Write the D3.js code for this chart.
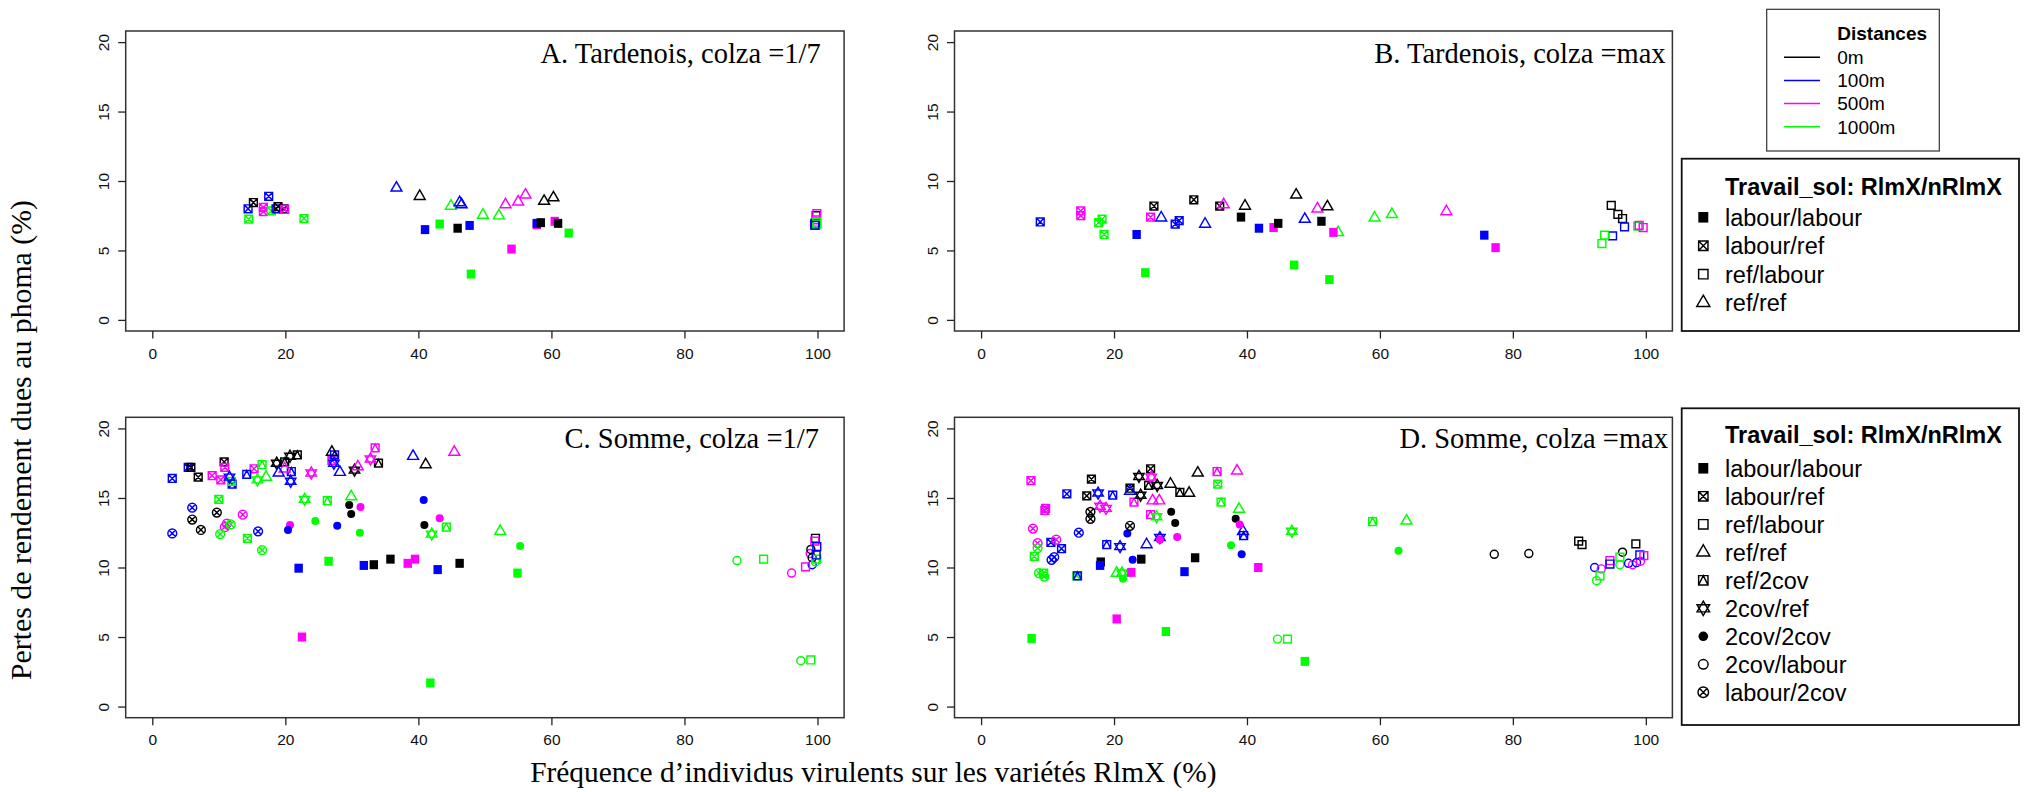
<!DOCTYPE html>
<html><head><meta charset="utf-8">
<script src="https://cdn.jsdelivr.net/npm/d3@7"></script>
<style>html,body{margin:0;padding:0;background:#fff;} svg{display:block;}</style>
</head><body>
<svg id="c" width="2029" height="792"></svg>
<script>
// ---------- DATA ----------
const xTicks = [0, 20, 40, 60, 80, 100];
const yTicks = [0, 5, 10, 15, 20];
const distances = ["0m", "100m", "500m", "1000m"];
const distanceColors = ["#000000", "#0000ff", "#ff00ff", "#00ff00"];
// treatment codes -> legend labels
const treatmentCodes = ["LL", "LR", "RL", "RR", "R2", "2R", "22", "2L", "L2"];
const treatmentLabels = ["labour/labour", "labour/ref", "ref/labour", "ref/ref", "ref/2cov", "2cov/ref", "2cov/2cov", "2cov/labour", "labour/2cov"];
const legendTreatmentsAB = ["LL", "LR", "RL", "RR"];
const legendTreatmentsCD = ["LL", "LR", "RL", "RR", "R2", "2R", "22", "2L", "L2"];
const panelTitles = ["A. Tardenois, colza =1/7", "B. Tardenois, colza =max", "C. Somme, colza =1/7", "D. Somme, colza =max"];

// each point: [frequence RlmX (%), pertes (%), distance index, treatment code]
const panelA = [
  [14.4,8.0,1,"LR"],[15.2,8.45,0,"LR"],[17.5,8.9,1,"LR"],[16.7,8.1,2,"LR"],[16.7,7.8,2,"LR"],[17.9,7.85,3,"LR"],
  [18.6,8.0,1,"LR"],[18.9,8.15,0,"LR"],[19.8,8.0,0,"LR"],[19.9,7.95,2,"LR"],[14.5,7.25,3,"LR"],[22.8,7.3,3,"LR"],
  [36.7,9.5,1,"RR"],[40.2,8.9,0,"RR"],[44.9,8.2,3,"RR"],[46.2,8.45,1,"RR"],[46.5,8.3,1,"RR"],[49.7,7.55,3,"RR"],
  [52.1,7.5,3,"RR"],[53.1,8.3,2,"RR"],[55.0,8.5,2,"RR"],[56.1,9.0,2,"RR"],[58.9,8.55,0,"RR"],[60.3,8.8,0,"RR"],
  [41.0,6.5,1,"LL"],[43.2,6.9,3,"LL"],[45.9,6.6,0,"LL"],[47.7,6.8,1,"LL"],[47.9,3.3,3,"LL"],[54.0,5.1,2,"LL"],
  [57.8,6.85,2,"LL"],[57.8,6.95,1,"LL"],[58.4,7.0,0,"LL"],[60.5,7.1,2,"LL"],[61.0,6.95,0,"LL"],[62.6,6.25,3,"LL"],
  [99.8,7.5,0,"RL"],[99.9,7.65,2,"RL"],[99.8,7.2,2,"RL"],[99.6,6.95,1,"RL"],[99.9,7.05,3,"RL"],[99.7,6.85,0,"RL"],
  [99.9,6.9,3,"RL"],[99.6,6.8,1,"RL"]
];
const panelB = [
  [8.9,7.05,1,"LR"],[15.0,7.85,2,"LR"],[15.0,7.5,2,"LR"],[17.7,7.0,3,"LR"],[18.2,7.25,3,"LR"],[18.5,6.15,3,"LR"],
  [26.0,8.2,0,"LR"],[25.5,7.4,2,"LR"],[29.2,6.9,1,"LR"],[29.8,7.15,1,"LR"],[32.0,8.65,0,"LR"],[35.9,8.2,0,"LR"],
  [27.1,7.35,1,"RR"],[33.7,6.9,1,"RR"],[36.5,8.3,2,"RR"],[39.7,8.2,0,"RR"],[47.4,9.0,0,"RR"],[48.7,7.25,1,"RR"],
  [50.6,8.0,2,"RR"],[52.1,8.15,0,"RR"],[53.7,6.3,3,"RR"],[59.2,7.35,3,"RR"],[61.8,7.6,3,"RR"],[70.0,7.8,2,"RR"],
  [23.4,6.15,1,"LL"],[24.7,3.4,3,"LL"],[39.1,7.4,0,"LL"],[41.8,6.6,1,"LL"],[44.0,6.65,2,"LL"],[44.7,6.95,0,"LL"],
  [47.1,3.95,3,"LL"],[51.2,7.1,0,"LL"],[53.0,6.3,2,"LL"],[52.4,2.9,3,"LL"],[75.7,6.1,1,"LL"],[77.4,5.2,2,"LL"],
  [94.8,8.25,0,"RL"],[95.8,7.6,0,"RL"],[96.5,7.3,0,"RL"],[96.8,6.7,1,"RL"],[95.0,6.05,1,"RL"],[93.8,6.1,3,"RL"],
  [93.4,5.5,3,"RL"],[98.8,6.75,3,"RL"],[99.0,6.8,2,"RL"],[99.6,6.65,2,"RL"]
];
const panelC = [
  [3.0,16.4,1,"LR"],[5.4,17.2,1,"LR"],[5.8,17.2,0,"LR"],[6.9,16.5,0,"LR"],[10.8,17.6,0,"LR"],[9.0,16.6,2,"LR"],
  [10.3,16.3,2,"LR"],[10.9,17.2,2,"LR"],[10.0,14.9,3,"LR"],[14.3,12.1,3,"LR"],[12.0,16.0,1,"LR"],[11.9,16.2,3,"LR"],
  [15.3,17.1,2,"LR"],[27.0,17.7,2,"LR"],
  [14.2,16.7,1,"R2"],[16.5,17.4,3,"R2"],[19.9,17.6,0,"R2"],[21.8,18.1,0,"R2"],[20.9,16.9,1,"R2"],[27.4,18.1,1,"R2"],
  [33.5,18.6,2,"R2"],[34.0,17.5,0,"R2"],[26.3,14.8,3,"R2"],[44.2,12.9,3,"R2"],
  [11.6,16.5,1,"2R"],[15.8,16.3,3,"2R"],[18.7,17.5,0,"2R"],[20.7,18.0,0,"2R"],[20.8,16.2,1,"2R"],[23.9,16.8,2,"2R"],
  [27.3,17.5,1,"2R"],[30.4,17.0,0,"2R"],[32.8,17.8,2,"2R"],[22.9,14.9,3,"2R"],[42.0,12.4,3,"2R"],
  [17.1,16.5,3,"RR"],[19.9,17.1,2,"RR"],[19.0,16.8,1,"RR"],[27.0,18.3,0,"RR"],[28.2,16.85,1,"RR"],[30.9,17.25,2,"RR"],
  [39.2,18.0,1,"RR"],[41.1,17.4,0,"RR"],[45.4,18.3,2,"RR"],[29.9,15.1,3,"RR"],[52.3,12.6,3,"RR"],
  [29.6,14.5,0,"22"],[29.9,13.85,0,"22"],[31.3,14.35,2,"22"],[31.2,12.5,3,"22"],[24.5,13.35,3,"22"],[27.8,13.0,1,"22"],
  [20.7,13.05,2,"22"],[20.4,12.7,1,"22"],[40.8,14.85,1,"22"],[40.9,13.05,0,"22"],[43.2,13.55,2,"22"],[55.3,11.55,3,"22"],
  [3.0,12.45,1,"L2"],[6.0,14.3,1,"L2"],[6.0,13.45,0,"L2"],[7.3,12.7,0,"L2"],[9.7,13.95,0,"L2"],[13.6,13.8,2,"L2"],
  [10.9,12.9,2,"L2"],[11.2,13.15,2,"L2"],[11.8,13.1,3,"L2"],[10.2,12.4,3,"L2"],[15.9,12.6,1,"L2"],[16.5,11.25,3,"L2"],
  [22.0,9.95,1,"LL"],[26.5,10.45,3,"LL"],[31.8,10.15,1,"LL"],[33.3,10.2,0,"LL"],[35.8,10.6,0,"LL"],[38.4,10.3,2,"LL"],
  [39.5,10.6,2,"LL"],[42.9,9.85,1,"LL"],[46.2,10.3,0,"LL"],[54.9,9.6,3,"LL"],[22.5,5.0,2,"LL"],[41.8,1.7,3,"LL"],
  [87.9,10.5,3,"2L"],[96.1,9.6,2,"2L"],[97.5,3.3,3,"2L"],[98.9,11.0,2,"2L"],[99.0,11.3,0,"2L"],[99.2,10.7,0,"2L"],
  [99.2,10.2,1,"2L"],[99.7,10.4,3,"2L"],
  [91.9,10.6,3,"RL"],[98.2,10.05,2,"RL"],[99.0,3.35,3,"RL"],[99.7,12.1,0,"RL"],[99.6,11.9,2,"RL"],[99.9,11.5,1,"RL"],
  [99.9,10.6,3,"RL"],[99.8,10.9,1,"RL"]
];
const panelD = [
  [7.5,16.25,2,"LR"],[16.6,16.35,0,"LR"],[12.9,15.3,1,"LR"],[15.9,15.15,0,"LR"],[9.7,14.25,2,"LR"],[9.6,14.1,2,"LR"],
  [22.4,15.7,0,"LR"],[25.5,17.1,0,"LR"],[35.6,16.0,3,"LR"],[10.5,11.8,1,"LR"],[12.1,11.35,1,"LR"],[8.0,10.8,3,"LR"],
  [9.4,9.6,3,"LR"],[14.4,9.4,3,"LR"],
  [19.8,15.2,1,"R2"],[25.2,15.9,0,"R2"],[29.9,15.4,0,"R2"],[35.5,16.9,2,"R2"],[36.1,14.7,3,"R2"],[23.0,14.7,2,"R2"],
  [25.5,13.8,2,"R2"],[39.5,12.3,1,"R2"],[58.9,13.3,3,"R2"],[18.9,11.65,1,"R2"],[14.5,9.4,1,"R2"],
  [17.6,15.35,1,"2R"],[17.9,14.4,2,"2R"],[18.8,14.25,2,"2R"],[23.75,16.55,0,"2R"],[25.6,16.5,2,"2R"],[24.0,15.2,0,"2R"],
  [26.5,15.9,0,"2R"],[26.4,13.65,3,"2R"],[26.9,12.15,1,"2R"],[20.9,11.5,1,"2R"],[46.75,12.6,3,"2R"],[21.2,9.6,3,"2R"],
  [22.4,15.5,1,"RR"],[28.5,16.0,0,"RR"],[31.3,15.35,0,"RR"],[32.6,16.8,0,"RR"],[38.5,16.95,2,"RR"],[38.8,14.2,3,"RR"],
  [25.8,14.8,2,"RR"],[26.8,14.8,2,"RR"],[39.4,12.6,1,"RR"],[24.9,11.65,1,"RR"],[20.4,9.6,3,"RR"],[64.0,13.35,3,"RR"],
  [28.6,14.0,0,"22"],[29.2,13.2,0,"22"],[38.3,13.5,0,"22"],[38.9,13.1,2,"22"],[29.5,12.2,2,"22"],[22.0,12.45,1,"22"],
  [22.8,10.55,1,"22"],[39.2,10.95,1,"22"],[37.6,11.6,3,"22"],[62.8,11.2,3,"22"],[26.9,12.0,2,"22"],[21.35,9.2,3,"22"],
  [16.45,14.0,0,"L2"],[16.45,13.5,0,"L2"],[22.4,13.0,0,"L2"],[14.7,12.5,1,"L2"],[11.3,12.0,2,"L2"],[7.8,12.8,2,"L2"],
  [8.5,11.75,2,"L2"],[8.5,11.4,3,"L2"],[10.6,10.55,1,"L2"],[11.0,10.75,1,"L2"],[8.7,9.6,3,"L2"],[9.5,9.35,3,"L2"],
  [18.0,10.4,0,"LL"],[17.9,10.15,1,"LL"],[24.1,10.6,0,"LL"],[22.6,9.65,2,"LL"],[32.2,10.7,0,"LL"],[30.6,9.7,1,"LL"],
  [41.7,10.0,2,"LL"],[20.4,6.3,2,"LL"],[7.6,4.9,3,"LL"],[27.8,5.4,3,"LL"],[48.7,3.25,3,"LL"],
  [44.6,4.85,3,"2L"],[77.2,10.95,0,"2L"],[82.4,11.0,0,"2L"],[96.5,11.1,0,"2L"],[92.3,10.0,1,"2L"],[93.3,9.9,2,"2L"],
  [92.6,9.05,3,"2L"],[96.1,10.2,3,"2L"],[97.4,10.3,1,"2L"],[98.0,10.2,2,"2L"],[98.6,10.35,1,"2L"],[99.2,10.45,2,"2L"],
  [46.1,4.85,3,"RL"],[89.9,11.9,0,"RL"],[90.4,11.65,0,"RL"],[98.5,11.7,0,"RL"],[93.1,9.4,3,"RL"],[94.6,10.5,2,"RL"],
  [94.6,10.25,1,"RL"],[96.1,10.75,3,"RL"],[99.1,10.9,1,"RL"],[99.7,10.85,2,"RL"]
];

// ---------- LAYOUT ----------
const SANS = "'Liberation Sans', Arial, Helvetica, sans-serif";
const SERIF = "'Liberation Serif', 'Times New Roman', Times, serif";
const panels = [
  {data: panelA, title: panelTitles[0], x0: 125.7, x1: 844.1, y0: 31, y1: 331, tx: 820.8, ty: 63.3},
  {data: panelB, title: panelTitles[1], x0: 954.5, x1: 1672.4, y0: 31, y1: 331, tx: 1665.6, ty: 63.3},
  {data: panelC, title: panelTitles[2], x0: 125.7, x1: 844.1, y0: 417.3, y1: 717.7, tx: 818.9, ty: 448.3},
  {data: panelD, title: panelTitles[3], x0: 954.5, x1: 1672.4, y0: 417.3, y1: 717.7, tx: 1668, ty: 448.3}
];

const svg = d3.select("#c");

function drawSymbol(g, code, color, k) {
  const s = 3.9 * k, lw = 1.45;
  const rt = 6.3 * k;
  if (code === "LL") {
    g.append("rect").attr("x", -s - 0.3).attr("y", -s - 0.6).attr("width", 2 * s + 0.6).attr("height", 2 * s + 1.2).attr("fill", color);
    return;
  }
  if (code === "22") {
    g.append("circle").attr("r", 4.0 * k).attr("fill", color);
    return;
  }
  const p = d3.path();
  if (code === "LR" || code === "RL" || code === "R2") {
    p.rect(-s, -s, 2 * s, 2 * s);
    if (code === "LR") { p.moveTo(-s, -s); p.lineTo(s, s); p.moveTo(-s, s); p.lineTo(s, -s); }
    if (code === "R2") { p.moveTo(-s, s); p.lineTo(0, -s); p.lineTo(s, s); }
  } else if (code === "RR") {
    p.moveTo(0, -rt); p.lineTo(rt * 0.866, rt * 0.5); p.lineTo(-rt * 0.866, rt * 0.5); p.closePath();
  } else if (code === "2R") {
    const h = 6 * k, b = 3 * k, w = 5.2 * k;
    p.moveTo(0, -h); p.lineTo(w, b); p.lineTo(-w, b); p.closePath();
    p.moveTo(0, h); p.lineTo(w, -b); p.lineTo(-w, -b); p.closePath();
  } else if (code === "2L" || code === "L2") {
    const r = (code === "L2" ? 4.4 : 4.0) * k;
    p.moveTo(r, 0); p.arc(0, 0, r, 0, 2 * Math.PI);
    if (code === "L2") {
      const d = r * 0.7071;
      p.moveTo(-d, -d); p.lineTo(d, d); p.moveTo(-d, d); p.lineTo(d, -d);
    }
  }
  g.append("path").attr("d", p.toString()).attr("fill", "none").attr("stroke", color).attr("stroke-width", lw);
}

panels.forEach(P => {
  const x = d3.scaleLinear().domain([-4, 104]).range([P.x0, P.x1]);
  const y = d3.scaleLinear().domain([-0.8, 20.8]).range([P.y1, P.y0]);
  const g = svg.append("g");

  // points
  const pts = g.append("g");
  P.data.forEach(d => {
    const s = pts.append("g").attr("transform", `translate(${x(d[0])},${y(d[1])})`);
    drawSymbol(s, d[3], distanceColors[d[2]], 1);
  });

  // box
  g.append("rect").attr("x", P.x0).attr("y", P.y0).attr("width", P.x1 - P.x0).attr("height", P.y1 - P.y0)
    .attr("fill", "none").attr("stroke", "#333").attr("stroke-width", 1.5);

  // x axis
  const xa = g.append("g").attr("transform", `translate(0,${P.y1})`)
    .call(d3.axisBottom(x).tickValues(xTicks).tickSize(7.5).tickSizeOuter(0).tickPadding(9));
  xa.select(".domain").remove();
  xa.selectAll("line").attr("stroke", "#222").attr("stroke-width", 1.3);
  xa.selectAll("text").attr("font-family", SANS).attr("font-size", 15.5).attr("fill", "#111");

  // y axis
  const ya = g.append("g").attr("transform", `translate(${P.x0},0)`)
    .call(d3.axisLeft(y).tickValues(yTicks).tickSize(7.5).tickSizeOuter(0));
  ya.select(".domain").remove();
  ya.selectAll("line").attr("stroke", "#222").attr("stroke-width", 1.3);
  ya.selectAll("text").attr("font-family", SANS).attr("font-size", 15.5).attr("fill", "#111")
    .attr("x", null).attr("dy", "0.36em").attr("text-anchor", "middle")
    .attr("transform", "translate(-22,0) rotate(-90)");

  // title
  g.append("text").attr("x", P.tx).attr("y", P.ty).attr("text-anchor", "end")
    .attr("font-family", SERIF).attr("font-size", 28.5).attr("fill", "#000").text(P.title);
});

// global axis labels
svg.append("text").attr("x", 873.4).attr("y", 782).attr("text-anchor", "middle")
  .attr("font-family", SERIF).attr("font-size", 29.4).attr("fill", "#000")
  .text("Fréquence d’individus virulents sur les variétés RlmX (%)");
svg.append("text").attr("transform", "translate(31,440) rotate(-90)").attr("text-anchor", "middle")
  .attr("font-family", SERIF).attr("font-size", 29.8).attr("fill", "#000")
  .text("Pertes de rendement dues au phoma (%)");

// Distances legend
const dl = svg.append("g");
dl.append("rect").attr("x", 1766.7).attr("y", 9.3).attr("width", 172.6).attr("height", 141.7)
  .attr("fill", "#fff").attr("stroke", "#333").attr("stroke-width", 1.2);
dl.append("text").attr("x", 1837.3).attr("y", 40).attr("font-family", SANS).attr("font-weight", "bold")
  .attr("font-size", 19).text("Distances");
const distY = d3.scaleLinear().domain([0, 3]).range([57.3, 126.7]);
distances.forEach((d, i) => {
  dl.append("line").attr("x1", 1784).attr("x2", 1820).attr("y1", distY(i)).attr("y2", distY(i))
    .attr("stroke", distanceColors[i]).attr("stroke-width", 1.5);
  dl.append("text").attr("x", 1837.3).attr("y", distY(i)).attr("dy", "0.36em")
    .attr("font-family", SANS).attr("font-size", 19).text(d);
});

// Treatment legends
function treatmentLegend(top, bottom, titleY, firstY, step, codes) {
  const lg = svg.append("g");
  lg.append("rect").attr("x", 1681.7).attr("y", top).attr("width", 2019 - 1681.7).attr("height", bottom - top)
    .attr("fill", "#fff").attr("stroke", "#111").attr("stroke-width", 1.8);
  lg.append("text").attr("x", 1725).attr("y", titleY).attr("font-family", SANS).attr("font-weight", "bold")
    .attr("font-size", 23.5).text("Travail_sol: RlmX/nRlmX");
  codes.forEach((c, i) => {
    const yy = firstY + i * step;
    const s = lg.append("g").attr("transform", `translate(1703.3,${yy})`);
    drawSymbol(s, c, "#000", 1.2);
    lg.append("text").attr("x", 1725).attr("y", yy).attr("dy", "0.36em")
      .attr("font-family", SANS).attr("font-size", 23.5)
      .text(treatmentLabels[treatmentCodes.indexOf(c)]);
  });
}
treatmentLegend(158.7, 331, 195, 217.3, 28.45, legendTreatmentsAB);
treatmentLegend(408.3, 725, 443.3, 468.3, 28.0, legendTreatmentsCD);
</script>
</body></html>
